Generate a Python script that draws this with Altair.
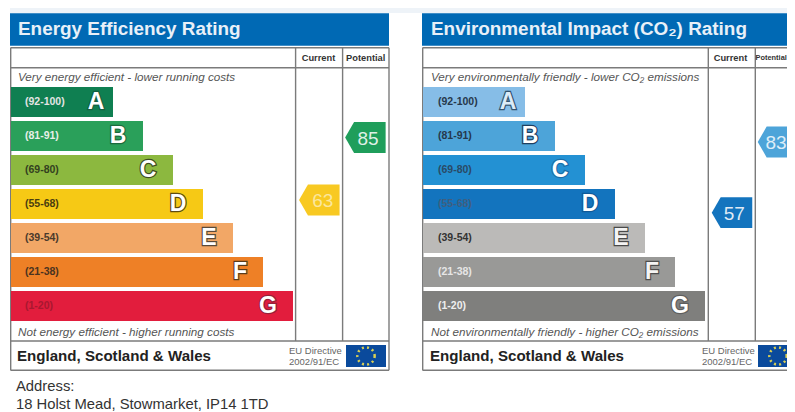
import altair as alt
import pandas as pd

FONT = "Liberation Sans"

# ---- data ----
letters = ["A", "B", "C", "D", "E", "F", "G"]
ranges = ["(92-100)", "(81-91)", "(69-80)", "(55-68)", "(39-54)", "(21-38)", "(1-20)"]
bar_lengths = [102, 132, 162, 192, 222, 252, 282]
letter_inset = [17, 25, 25, 25, 24, 23, 25]
columns = ["Current", "Potential"]

energy_fill = ["#0f7f51", "#2aa05a", "#8cb83f", "#f6c915", "#f2a766", "#ee8026", "#e21d3d"]
energy_label = ["#e4e4e4", "#e8efe8", "#33401f", "#4a3d10", "#4a3a2c", "#4a3320", "#a81830"]
energy_letter = ["#ffffff"] * 7
energy_edge = ["#145f40", "#1c6a3e", "#3e4e22", "#5e4c10", "#5a4a3a", "#5a3c1c", "#96203a"]
env_fill = ["#86bde7", "#4da4d9", "#2391d3", "#1374be", "#bbbab8", "#999997", "#7f7f7d"]
env_label = ["#26384c", "#26384c", "#2a4a66", "#3f5f80", "#333333", "#e6e6e6", "#eeeeee"]
env_letter = ["#dcebf7", "#ffffff", "#ffffff", "#ffffff", "#f4f4f4", "#f4f4f4", "#ffffff"]
env_edge = ["#33536f", "#1e3f60", "#1b6ea8", "#0f5a98", "#4a4a4a", "#4e4e4e", "#5e5e5e"]

energy_ratings = [63, 85]
energy_arrow = ["#f8c922", "#1f9e5b"]
energy_num = ["#fbe79e", "#dff0e6"]
env_ratings = [57, 83]
env_arrow = ["#1374be", "#4da4d9"]
env_num = ["#dfeaf5", "#dfeef8"]

ARROW = "M-1,0 L-0.56,-0.76 L1,-0.76 L1,0.76 L-0.56,0.76 Z"
one = pd.DataFrame({"k": [0]})


def furn():
    return alt.Chart(one)


def txt(s, x, y, **kw):
    kw.setdefault("font", FONT)
    kw.setdefault("align", "left")
    kw.setdefault("baseline", "middle")
    return furn().mark_text(text=s, **kw).encode(x=alt.value(x), y=alt.value(y))


def box(x, x2, y, y2, color, clip=False):
    return furn().mark_rect(color=color, clip=clip).encode(
        x=alt.value(x), x2=alt.value(x2), y=alt.value(y), y2=alt.value(y2))


def hline(y, x, x2):
    return furn().mark_rule(color="#7b7b7b", strokeWidth=1.4, clip=True).encode(
        x=alt.value(x), x2=alt.value(x2), y=alt.value(y))


def vline(x, y, y2):
    return furn().mark_rule(color="#7b7b7b", strokeWidth=1.4, clip=True).encode(
        x=alt.value(x), y=alt.value(y), y2=alt.value(y2))


def panel(title, top_note, bottom_note, fills, labels, letter_fill, edges, ratings,
          arrow_fill, num_fill, col_x, num_x, head_x, head_size, pw, frame_right, off, extra):
    bands = pd.DataFrame({"letter": letters, "range": ranges, "length": bar_lengths,
                          "inset": letter_inset, "fill": fills, "label": labels,
                          "lfill": letter_fill, "edge": edges})
    bands["letter_x"] = bands["length"] - bands["inset"]
    y_band = alt.Y("letter:N", axis=None,
                   scale=alt.Scale(type="band", domain=letters, range=[79, 313],
                                   paddingInner=4 / 34, paddingOuter=0))
    x_scale = alt.Scale(domain=[0, 400], range=[1, 401])
    x_len = alt.X("length:Q", axis=None, scale=x_scale)
    x_let = alt.X("letter_x:Q", axis=None, scale=x_scale)
    bars = alt.Chart(bands).mark_bar().encode(
        x=x_len, y=y_band, fill=alt.Fill("fill:N", scale=None, legend=None))
    range_text = alt.Chart(bands).mark_text(
        font=FONT, fontWeight="bold", fontSize=10.5, align="left", baseline="middle"
    ).encode(x=alt.value(15 + off), y=y_band, text="range:N",
             fill=alt.Fill("label:N", scale=None, legend=None))
    big_edge = alt.Chart(bands).mark_text(
        font=FONT, fontWeight="bold", fontSize=23, align="center", baseline="middle",
        strokeWidth=2.4
    ).encode(x=x_let, y=y_band, text="letter:N",
             fill=alt.Fill("edge:N", scale=None, legend=None),
             stroke=alt.Stroke("edge:N", scale=None, legend=None))
    big = alt.Chart(bands).mark_text(
        font=FONT, fontWeight="bold", fontSize=23, align="center", baseline="middle"
    ).encode(x=x_let, y=y_band, text="letter:N",
             fill=alt.Fill("lfill:N", scale=None, legend=None))

    ar = pd.DataFrame({"col": columns, "rating": ratings, "fill": arrow_fill, "num": num_fill,
                       "fs": head_size})
    x_col = alt.X("col:N", axis=None,
                  scale=alt.Scale(type="point", domain=columns, range=col_x, padding=0))
    x_num = alt.X("col:N", axis=None,
                  scale=alt.Scale(type="point", domain=columns, range=num_x, padding=0))
    x_head = alt.X("col:N", axis=None,
                   scale=alt.Scale(type="point", domain=columns, range=head_x, padding=0))
    y_rate = alt.Y("rating:Q", axis=None,
                   scale=alt.Scale(domain=[57, 63, 83, 85], range=[204.7, 192, 134, 129.5]))
    arrows = alt.Chart(ar).mark_point(
        shape=ARROW, size=1640, filled=True, opacity=1, strokeWidth=0, clip=True
    ).encode(x=x_col, y=y_rate, fill=alt.Fill("fill:N", scale=None, legend=None))
    nums = alt.Chart(ar).mark_text(
        font=FONT, fontSize=19, align="center", baseline="middle", dy=1
    ).encode(x=x_num, y=y_rate, text="rating:Q",
             fill=alt.Fill("num:N", scale=None, legend=None))

    heads = alt.Chart(ar).mark_text(
        font=FONT, fontWeight="bold", fill="#333333", align="center", baseline="middle"
    ).encode(x=x_head, y=alt.value(50), text="col:N",
             size=alt.Size("fs:Q", scale=None, legend=None))

    frame = [
        box(0, frame_right, 5.3, 37.7, "#0069b4", clip=True),
        hline(39.7, 0.5, frame_right), hline(59.7, 0.5, frame_right),
        hline(333, 0.5, frame_right), hline(362.3, 0.5, frame_right),
        vline(0.7, 39.7, 362.3), vline(frame_right, 39.7, 362.3),
    ]
    return alt.layer(
        box(0, pw, 0, 5, "#eef3f8", clip=True),
        *frame,
        vline(col_x[0] - 23.7, 39.7, 333), vline(col_x[0] + 23.3, 39.7, 333),
        txt(title, 8 + off, 21, fontSize=18.9, fontWeight="bold", fill="#e8f0f8"),
        txt(top_note, 8 + off, 69, fontSize=11.7, fontStyle="italic", fill="#555555"),
        txt(bottom_note, 8 + off, 323.7, fontSize=11.7, fontStyle="italic", fill="#555555"),
        txt("England, Scotland & Wales", 7 + off, 347.7, fontSize=15.1, fontWeight="bold", fill="#222222"),
        txt("EU Directive", 279 + off, 342.7, fontSize=9.5, fill="#666666"),
        txt("2002/91/EC", 279 + off, 354, fontSize=9.5, fill="#666666"),
        box(336, 376, 337, 359, "#0a4a9c", clip=True),
        furn().mark_point(shape="circle", size=300, filled=False, stroke="#d9cf55", strokeWidth=2.5,
                          strokeDash=[2, 3.2], clip=True, opacity=1).encode(
            x=alt.value(356), y=alt.value(348)),
        bars, range_text, big_edge, big, arrows, nums, heads, *extra,
    ).resolve_scale(x="independent", y="independent").properties(width=pw, height=404)


left = panel("Energy Efficiency Rating",
             "Very energy efficient - lower running costs",
             "Not energy efficient - higher running costs",
             energy_fill, energy_label, energy_letter, energy_edge,
             energy_ratings, energy_arrow, energy_num,
             [309.3, 355.4], [312.7, 358], [308.5, 355.7], [9.3, 9.3], 412, 379, 0,
             [txt("Address:", 6, 378.7, fontSize=14.8, fill="#333333"),
              txt("18 Holst Mead, Stowmarket, IP14 1TD", 6, 397, fontSize=14.8, fill="#333333")])
right = panel("Environmental Impact (CO₂) Rating",
              "Very environmentally friendly - lower CO₂ emissions",
              "Not environmentally friendly - higher CO₂ emissions",
              env_fill, env_label, env_letter, env_edge,
              env_ratings, env_arrow, env_num,
              [310, 356], [312.3, 354], [308.5, 349.2], [9.3, 7.4], 365, 379, 1, [])

chart = alt.hconcat(left, right, spacing=0, bounds="flush",
                    padding={"left": 2, "top": 0, "right": 0, "bottom": 0}
                    ).configure_view(stroke=None)
chart.save("out.html", embed_options={"renderer": "svg", "actions": False})
